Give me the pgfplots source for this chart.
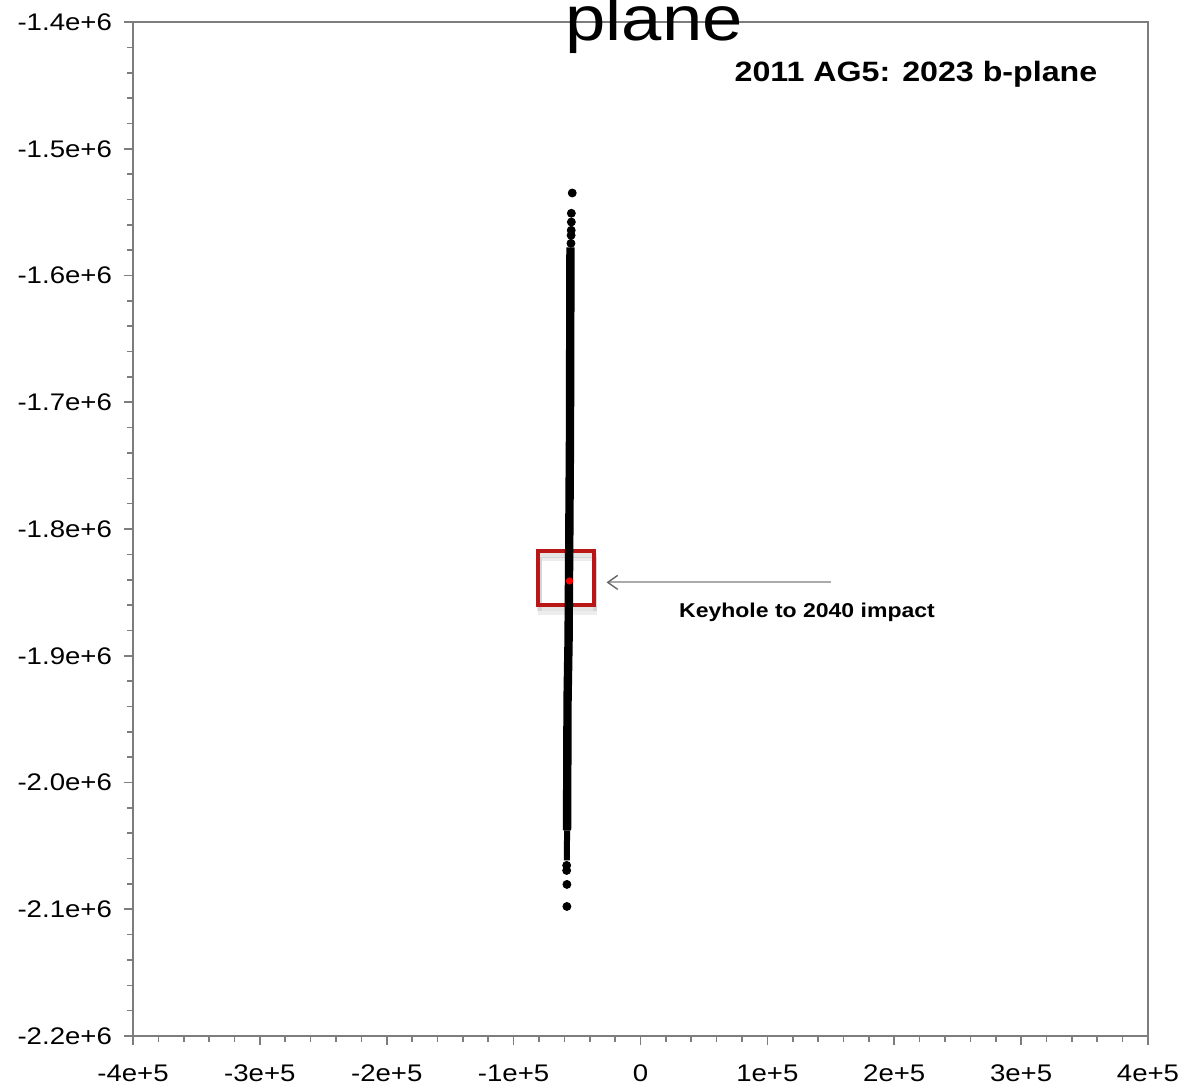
\documentclass[border=0pt]{standalone}
\usepackage{fontspec}
\setmainfont{Liberation Sans}[FakeStretch=1.15]
\usepackage{pgfplots}
\pgfplotsset{compat=1.18}
\usetikzlibrary{arrows.meta}
\definecolor{axgray}{RGB}{125,125,125}
\definecolor{boxred}{RGB}{185,22,22}
\definecolor{arrowgray}{RGB}{170,170,170}

\begin{document}
\begin{tikzpicture}
\path[use as bounding box] (0,0) rectangle (590.5pt,543.5pt);
\clip (0,0) rectangle (590.5pt,543.5pt);
\begin{axis}[
  at={(66.5pt,25.5pt)}, anchor=south west,
  scale only axis, width=507.5pt, height=507pt,
  xmin=-400000, xmax=400000, ymin=-2200000, ymax=-1400000,
  xtick={-400000,-300000,-200000,-100000,0,100000,200000,300000,400000},
  xticklabels={-4e+5,-3e+5,-2e+5,-1e+5,0,1e+5,2e+5,3e+5,4e+5},
  ytick={-2200000,-2100000,-2000000,-1900000,-1800000,-1700000,-1600000,-1500000,-1400000},
  yticklabels={-2.2e+6,-2.1e+6,-2.0e+6,-1.9e+6,-1.8e+6,-1.7e+6,-1.6e+6,-1.5e+6,-1.4e+6},
  scaled ticks=false,
  minor tick num=4,
  tick align=outside,
  xtick pos=left, ytick pos=left,
  axis line style={axgray, line width=0.9pt},
  every tick/.style={axgray, line width=0.8pt},
  major tick length=4.5pt, minor tick length=3pt,
  tick label style={font=\fontsize{12pt}{14pt}\selectfont, text=black},
  xticklabel style={yshift=-6.5pt},
  yticklabel style={xshift=-2.5pt},
]
% shadow of the keyhole box
\draw[black, opacity=0.10, line width=2.5pt] (axis cs:-80000,-1.8210e6) rectangle (axis cs:-36000,-1.8630e6);
\draw[black, opacity=0.07, line width=2pt] (axis cs:-79500,-1.8240e6) rectangle (axis cs:-35500,-1.8660e6);
% keyhole box
\draw[boxred, line width=2pt] (axis cs:-81000,-1.8176e6) rectangle (axis cs:-37000,-1.8600e6);
% dense part of the b-plane cloud
\addplot[black, line width=4.2pt, line join=round] coordinates {
 (-55200,-1.5778e6) (-55600,-1.7300e6) (-56700,-1.8878e6) (-57500,-1.9351e6) (-57900,-2.0377e6)};
\addplot[black, line width=3pt] coordinates {(-57900,-2.0377e6) (-58000,-2.0614e6)};
% sparse tails
\addplot[only marks, mark=*, mark size=2pt, black] coordinates {
 (-53800,-1.5349e6) (-54500,-1.5509e6) (-54500,-1.5578e6) (-54600,-1.5643e6) (-54700,-1.5683e6) (-54800,-1.5746e6)
 (-58200,-2.0654e6) (-58200,-2.0694e6) (-58000,-2.0804e6) (-58000,-2.0978e6)};
% keyhole point
\addplot[only marks, mark=*, mark size=1.6pt, red, mark options={draw=red, fill=red}] coordinates {(-56000,-1.841e6)};
% arrow
\draw[arrowgray, line width=1pt, -{Straight Barb[length=5pt,width=7pt,line width=0.7pt,color=black!60]}] (axis cs:150500,-1.8421e6) -- (axis cs:-26800,-1.8421e6);
\end{axis}
\node[anchor=base, font=\fontsize{31.5pt}{36pt}\selectfont] at (327pt,523pt) {plane};
\node[anchor=base, font=\bfseries\fontsize{14pt}{16pt}\selectfont] at (458pt,502.5pt) {2011 AG5: 2023 b-plane};
\node[anchor=base, font=\bfseries\fontsize{10pt}{12pt}\selectfont] at (403.5pt,234.5pt) {Keyhole to 2040 impact};
\end{tikzpicture}
\end{document}
